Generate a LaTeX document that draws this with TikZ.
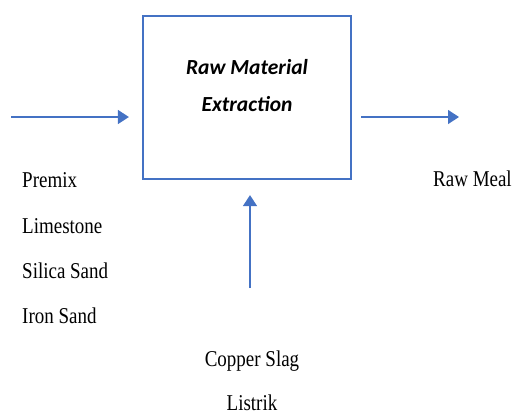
\documentclass[tikz,border=0pt]{standalone}
\usepackage{fontspec}
\setmainfont{Liberation Serif}
\newfontfamily\titlefont{Carlito}
\newfontfamily\matfont[FakeStretch=0.84]{Liberation Serif}
\usetikzlibrary{arrows.meta,positioning}
\definecolor{myblue}{HTML}{4472C4}
\tikzset{%
  arrow/.style={myblue,line width=1.3pt,-{Triangle[length=11pt,width=14pt]}},
  process/.style={draw=myblue,line width=2.2pt,minimum width=208pt,minimum height=163pt},
  title/.style={font=\titlefont\bfseries\itshape\fontsize{21.5}{37}\selectfont,align=center},
  material/.style={font=\matfont\fontsize{22.6}{27}\selectfont,inner sep=0pt},
}

\begin{document}
\begin{tikzpicture}[x=1pt,y=-1pt]
      \useasboundingbox (0,0) rectangle (513,416);
      \node[process] (extraction) at (247,97.5) {};
      \node[title] (name) at (247,86) {Raw Material\\Extraction};

      \coordinate (input) at (11,117);
      \coordinate (output) at (459,117);
      \coordinate (additive) at (250,288);

      \node[material,anchor=base west] (premix) at (22,187) {Premix};
      \node[material,anchor=base west] (limestone) at (22,233) {Limestone};
      \node[material,anchor=base west] (silica) at (22,278) {Silica Sand};
      \node[material,anchor=base west] (iron) at (22,323) {Iron Sand};
      \node[material,anchor=base west] (meal) at (433,186) {Raw Meal};
      \node[material,anchor=base] (slag) at (252,366) {Copper Slag};
      \node[material,anchor=base] (listrik) at (252,410) {Listrik};

      \draw[arrow,shorten >=13pt] (input) -- (input -| extraction.west);
      \draw[arrow,shorten <=9pt] (output -| extraction.east) -- (output);
      \draw[arrow,shorten >=15pt] (additive) -- (additive |- extraction.south);
    \end{tikzpicture}
\end{document}
